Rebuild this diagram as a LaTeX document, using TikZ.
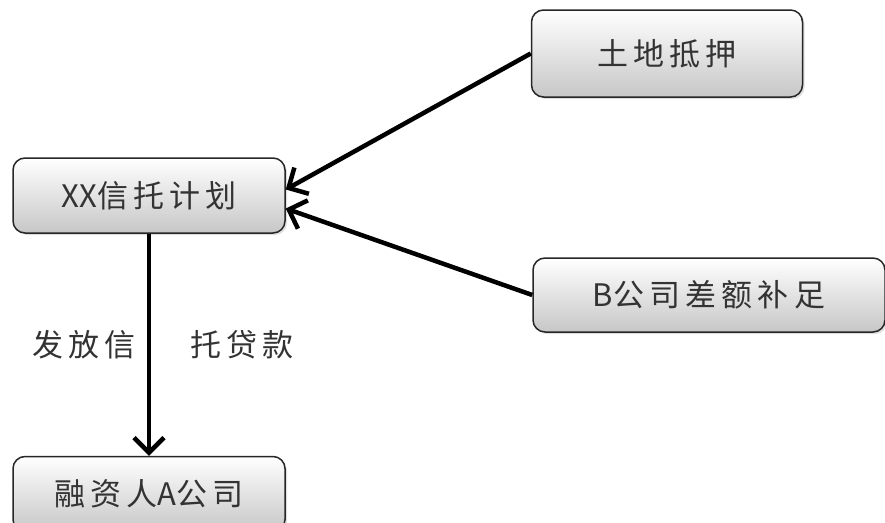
\documentclass[tikz,border=0pt]{standalone}
\usepackage{fontspec}
\setmainfont{Noto Sans CJK SC}
\usetikzlibrary{arrows.meta,shadows}
\tikzset{
  mybox/.style={draw=black!85,line width=1.5pt,rounded corners=12pt,
    top color=white,bottom color=black!22,drop shadow={shadow xshift=2pt,shadow yshift=-2pt,opacity=.25},
    font=\fontsize{31}{36}\selectfont,text=black!80,inner sep=0pt},
  myarrow/.style={line width=4.5pt,-{Straight Barb[length=15pt,width=30pt,line width=4.5pt]}}
}
\begin{document}
\begin{tikzpicture}[x=1pt,y=-1pt]
        \clip (0,0) rectangle (885,522);
        \node[mybox,minimum width=271pt,minimum height=87pt] (land) at (667,53.5) {土\,地\,抵\,押};
        \node[mybox,minimum width=272pt,minimum height=75pt] (trust) at (149,195.5) {XX信\,托\,计\,划};
        \node[mybox,minimum width=352pt,minimum height=74pt] (comp) at (709,295) {B公\,司\,差\,额\,补\,足};
        \node[mybox,minimum width=272pt,minimum height=75pt] (fin) at (149,494) {融\,资\,人A公\,司};
        \draw[myarrow] (land.west) -- ([yshift=6pt]trust.east);
        \draw[myarrow] (comp.west) -- ([yshift=-13pt]trust.east);
        \draw[myarrow] (trust.south) -- (fin.north)
        node[pos=.5,left=8pt,font=\fontsize{31}{36}\selectfont,text=black!80]{发\,放\,信}
        node[pos=.5,right=36pt,font=\fontsize{31}{36}\selectfont,text=black!80]{托\,贷\,款};
      \end{tikzpicture}
\end{document}
